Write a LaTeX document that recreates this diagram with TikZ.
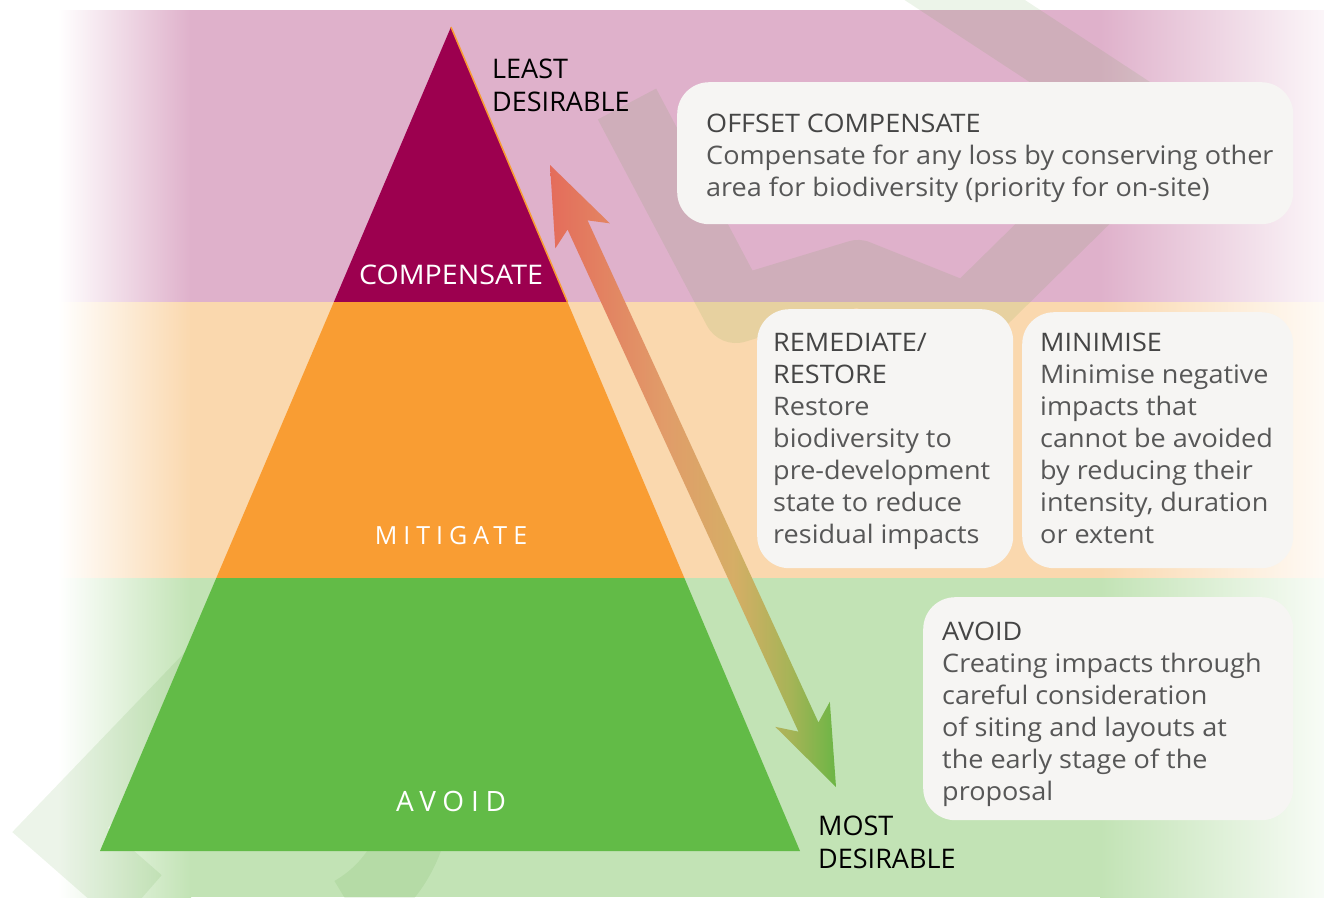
\documentclass[tikz,border=0pt]{standalone}
\usepackage{fontspec}
\setmainfont{Open Sans}
\newfontfamily\boxfont{Open Sans}[FakeStretch=1.06]
\newfontfamily\spacedfont{Open Sans}[LetterSpace=24]
\usetikzlibrary{calc}

\definecolor{pinkband}{HTML}{DFB1CB}
\definecolor{peachband}{HTML}{FAD8AE}
\definecolor{greenband}{HTML}{C2E3B5}
\definecolor{compcol}{HTML}{9C004F}
\definecolor{mitcol}{HTML}{F99D33}
\definecolor{avoidcol}{HTML}{62BB47}
\definecolor{boxfill}{HTML}{F6F5F3}
\definecolor{boxtext}{HTML}{575757}
\definecolor{titletext}{HTML}{454545}
\definecolor{wmcol}{RGB}{70,150,40}
\definecolor{arrtop}{HTML}{E46C5B}
\definecolor{arrorange}{HTML}{E19C69}
\definecolor{arrtan}{HTML}{D6AE66}
\definecolor{arrolive}{HTML}{A6B457}
\definecolor{arrbot}{HTML}{6CB545}

% colour runs from left to right over the arrow
\pgfdeclarehorizontalshading{arrowshade}{100bp}{color(0bp)=(arrtop); color(25bp)=(arrtop);
    color(45bp)=(arrorange); color(57bp)=(arrtan); color(67bp)=(arrolive);
    color(75bp)=(arrbot); color(100bp)=(arrbot)}

\newcommand{\boxtitle}[1]{{\color{titletext}#1}}

\begin{document}
\begin{tikzpicture}[x=1pt,y=-1pt]
\useasboundingbox (0,0) rectangle (1324,897);

% background bands, faded at both ends
\foreach \col/\top/\bot in {pinkband/10/302, peachband/302/578, greenband/578/897} {
    \shade[left color=white, right color=\col] (58,\top) rectangle (191,\bot);
    \fill[\col] (190,\top) rectangle (1101,\bot);
    \shade[left color=\col, right color=\col!12] (1100,\top) rectangle (1324,\bot);
}

% faint watermark
\begin{scope}[transparency group, opacity=0.1]
\begin{scope}[wmcol, line width=66]
    \draw[line join=round] (627,104) -- (736,310) -- (858,273) -- (968,317) -- (1160,128);
    \draw[line join=round] (922,-28) -- (1160,128) -- (1215,200);
    \draw[line join=miter] (300,580) -- (60,830) -- (140,900);
    \draw (285,794) ++(170:133) arc[start angle=170, end angle=420, radius=133];
\end{scope}
\end{scope}

% pyramid
\coordinate (apex) at (451,27);
\coordinate (bl) at (100,851);
\coordinate (br) at (800,851);
\coordinate (cl) at ($(apex)!0.33374!(bl)$);
\coordinate (cr) at ($(apex)!0.33374!(br)$);
\coordinate (ml) at ($(apex)!0.66869!(bl)$);
\coordinate (mr) at ($(apex)!0.66869!(br)$);
\fill[compcol] (apex) -- (cl) -- (cr) -- cycle;
\fill[mitcol] (cl) -- (cr) -- (mr) -- (ml) -- cycle;
\fill[avoidcol] (ml) -- (mr) -- (br) -- (bl) -- cycle;
\draw[mitcol, line width=1.5] (apex) -- (cr);

\begin{scope}[every node/.style={anchor=base, inner sep=0pt, text=white}]
    \node[font=\boxfont\fontsize{27}{32}\selectfont] (complabel) at (451,284) {COMPENSATE};
    \node[font=\spacedfont\fontsize{25}{30}\selectfont] (mitlabel) at (451,544) {MITIGATE};
    \node[font=\spacedfont\fontsize{28}{32}\selectfont] (avoidlabel) at (451,811) {AVOID};
\end{scope}

% double arrow, least to most desirable
\coordinate (leasttip) at (550,165);
\coordinate (mosttip) at (836,787);
\shade[shading=arrowshade]
    (leasttip) -- ($(leasttip)!78pt!(mosttip)!30pt!-90:(mosttip)$)
    -- ($(leasttip)!66pt!(mosttip)!11pt!-90:(mosttip)$)
    -- ($(mosttip)!66pt!(leasttip)!11pt!90:(leasttip)$)
    -- ($(mosttip)!80pt!(leasttip)!30pt!90:(leasttip)$)
    -- (mosttip)
    -- ($(mosttip)!80pt!(leasttip)!30pt!-90:(leasttip)$)
    -- ($(mosttip)!66pt!(leasttip)!11pt!-90:(leasttip)$)
    -- ($(leasttip)!66pt!(mosttip)!11pt!90:(mosttip)$)
    -- ($(leasttip)!78pt!(mosttip)!30pt!90:(mosttip)$) -- cycle;

% multi-line nodes sit on the baseline of their last line
\begin{scope}[every node/.style={anchor=base west, align=left, inner sep=0pt,
              font=\fontsize{27}{33}\selectfont}]
    \node (least) at (492,111) {LEAST\\DESIRABLE};
    \node (most) at (818,868) {MOST\\DESIRABLE};
\end{scope}

% text boxes
\begin{scope}[every node/.style={fill=boxfill, rounded corners=32, inner sep=0pt, anchor=north west}]
    \node[minimum width=616, minimum height=142] (offsetbox) at (677,82) {};
    \node[minimum width=256, minimum height=259] (restorebox) at (757,309) {};
    \node[minimum width=271, minimum height=256] (minbox) at (1022,312) {};
    \node[minimum width=370, minimum height=223] (avoidbox) at (923,597) {};
\end{scope}

\begin{scope}[every node/.style={anchor=base west, align=left, inner sep=0pt, text=boxtext,
              font=\boxfont\fontsize{25.5}{32}\selectfont}]
    \node (offsettext) at (706,196) {\boxtitle{OFFSET COMPENSATE}\\Compensate for any loss by conserving other\\area for biodiversity (priority for on-site)};
    \node (restoretext) at (773,543) {\boxtitle{REMEDIATE/}\\\boxtitle{RESTORE}\\Restore\\biodiversity to\\pre-development\\state to reduce\\residual impacts};
    \node (mintext) at (1040,543) {\boxtitle{MINIMISE}\\Minimise negative\\impacts that\\cannot be avoided\\by reducing their\\intensity, duration\\or extent};
    \node (avoidtext) at (942,800) {\boxtitle{AVOID}\\Creating impacts through\\careful consideration\\of siting and layouts at\\the early stage of the\\proposal};
\end{scope}
\end{tikzpicture}
\end{document}
